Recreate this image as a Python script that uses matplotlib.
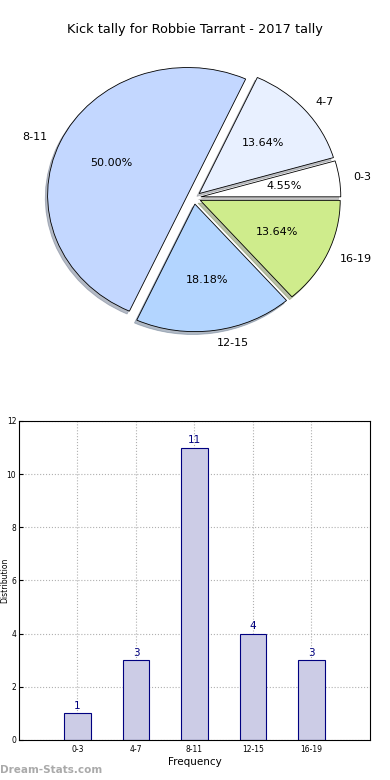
import matplotlib
matplotlib.use("Agg")
import matplotlib.pyplot as plt

categories = ["0-3", "4-7", "8-11", "12-15", "16-19"]
counts = [1, 3, 11, 4, 3]
pie_colors = ["#ffffff", "#e8f0ff", "#c3d7ff", "#b3d5ff", "#cfec8c"]

fig = plt.figure(figsize=(3.9, 7.8), dpi=100)

# pie chart
ax1 = fig.add_axes([0.0487, 0.542, 0.897, 0.409])
wedges, texts, autotexts = ax1.pie(
    counts, labels=categories, colors=pie_colors, autopct="%1.2f%%",
    explode=[0.05] * len(counts),
    shadow={"ox": -0.012, "oy": -0.016, "shade": 0.45}, startangle=0,
    wedgeprops={"edgecolor": "black", "linewidth": 0.6},
    textprops={"fontsize": 8})
ax1.set_aspect("auto")
ax1.set_xlim(-1.25, 1.25)
ax1.set_ylim(-1.25, 1.25)
fig.text(0.5, 1 - 30 / 780, "Kick tally for Robbie Tarrant - 2017 tally",
         ha="center", va="center", fontsize=9.3)

# bar chart
ax2 = fig.add_axes([0.0487, 0.0513, 0.9, 0.409])
xpos = list(range(len(categories)))
ax2.bar(xpos, counts, width=0.45, color="#ccccE6",
        edgecolor="#000080", linewidth=0.8, zorder=2)
for x, c in zip(xpos, counts):
    ax2.text(x, c + 0.1, str(c), ha="center", va="bottom", color="#000080", fontsize=7.5)
ax2.set_xlim(-1, 5)
ax2.set_ylim(0, 12)
ax2.set_xticks(xpos)
ax2.set_xticklabels(categories)
ax2.set_yticks(range(0, 13, 2))
ax2.tick_params(labelsize=5.5, direction="in", length=3)
ax2.tick_params(axis="y", pad=2)
ax2.grid(True, linestyle=":", color="#b0b0b0", linewidth=0.8, zorder=0)
ax2.set_axisbelow(True)
ax2.set_xlabel("Frequency", fontsize=7.5, labelpad=2)
ax2.set_ylabel("Distribution", fontsize=5.5)
ax2.yaxis.set_label_coords(-0.028, 0.5)

fig.text(0.0, 1 - 770 / 780, "Dream-Stats.com", ha="left", va="center",
         fontsize=7.5, color="#aaaaaa", fontweight="bold")

fig.savefig("out.png", dpi=100)
